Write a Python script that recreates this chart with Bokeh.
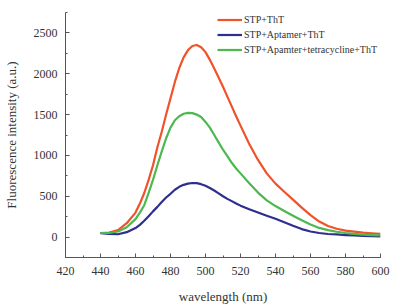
from bokeh.plotting import figure
from bokeh.models import Range1d, SingleIntervalTicker
from bokeh.embed import file_html
from bokeh.resources import INLINE

wavelength = [440, 445, 450, 455, 460, 462.5, 465, 467.5, 470, 472.5, 475, 477.5, 480, 482.5, 485,
              487.5, 490, 492.5, 495, 497.5, 500, 502.5, 505, 507.5, 510, 512.5, 515, 517.5, 520,
              525, 530, 535, 540, 545, 550, 555, 560, 565, 570, 575, 580, 585, 590, 595, 600]

stp_tht = [50, 55, 85, 170, 300, 410, 540, 700, 880, 1100, 1290, 1500, 1700, 1900, 2070,
           2200, 2290, 2340, 2352, 2325, 2265, 2170, 2065, 1955, 1840, 1720, 1600, 1480, 1365,
           1140, 945, 780, 655, 555, 458, 360, 270, 190, 135, 102, 80, 67, 55, 47, 40]

stp_aptamer_tht = [48, 40, 35, 60, 110, 150, 200, 255, 315, 370, 430, 485, 530, 580, 615,
                   640, 655, 662, 660, 648, 628, 600, 570, 535, 500, 468, 440, 412, 385,
                   340, 300, 262, 224, 182, 138, 98, 68, 50, 38, 32, 25, 20, 15, 10, 8]

stp_apt_tet_tht = [50, 52, 68, 120, 220, 300, 390, 540, 700, 880, 1050, 1210, 1340, 1430, 1480,
                   1510, 1520, 1518, 1500, 1470, 1410, 1340, 1250, 1160, 1070, 990, 910, 840, 780,
                   660, 545, 450, 380, 320, 262, 205, 155, 112, 85, 65, 50, 40, 30, 25, 20]

labels = ["STP+ThT", "STP+Aptamer+ThT", "STP+Apamter+tetracycline+ThT"]
colors = ["#F0522A", "#2E2E8E", "#4DB84E"]

FONT = "Liberation Serif"

p = figure(width=413, height=307, output_backend="svg", toolbar_location=None,
           x_range=Range1d(420, 600), y_range=Range1d(-250, 2750),
           min_border_left=65, min_border_right=33, min_border_top=12, min_border_bottom=50)
p.outline_line_color = None
p.xgrid.visible = False
p.ygrid.visible = False
p.background_fill_color = "white"
p.border_fill_color = "white"

for ys, lab, col in zip([stp_tht, stp_aptamer_tht, stp_apt_tet_tht], labels, colors):
    p.line(wavelength, ys, line_color=col, line_width=2.2, legend_label=lab,
           line_join="round")

p.xaxis.ticker = SingleIntervalTicker(interval=20, num_minor_ticks=2)
p.yaxis.ticker = SingleIntervalTicker(interval=500, num_minor_ticks=2)

for ax in (p.xaxis, p.yaxis):
    ax.axis_line_color = "#555555"
    ax.major_tick_line_color = "#555555"
    ax.minor_tick_line_color = "#555555"
    ax.major_tick_in = 4
    ax.major_tick_out = 0
    ax.minor_tick_in = 2
    ax.minor_tick_out = 0
    ax.major_label_text_font = FONT
    ax.major_label_text_font_size = "12px"
    ax.major_label_text_color = "#333333"
    ax.axis_label_text_font = FONT
    ax.axis_label_text_font_size = "13px"
    ax.axis_label_text_font_style = "normal"
    ax.axis_label_text_color = "#333333"

p.xaxis.axis_label = "wavelength (nm)"
p.yaxis.axis_label = "Fluorescence intensity (a.u.)"
p.xaxis.major_label_standoff = 9
p.xaxis.axis_label_standoff = 11
p.yaxis.major_label_standoff = 8
p.yaxis.axis_label_standoff = 12

lg = p.legend[0]
lg.location = (152, 200)
lg.border_line_color = None
lg.background_fill_alpha = 0
lg.padding = 0
lg.margin = 0
lg.spacing = 0
lg.glyph_width = 25
lg.glyph_height = 15
lg.label_height = 15
lg.label_standoff = 2
lg.label_text_font = FONT
lg.label_text_font_size = "10px"
lg.label_text_color = "#333333"

open("out.html", "w").write(file_html(p, INLINE))
